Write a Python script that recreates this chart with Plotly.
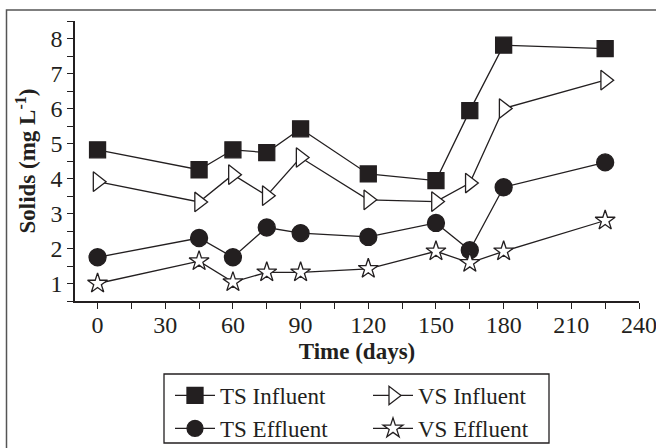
import plotly.graph_objects as go

days = [0, 45, 60, 75, 90, 120, 150, 165, 180, 225]
ts_influent = [4.82, 4.25, 4.82, 4.74, 5.42, 4.13, 3.94, 5.94, 7.81, 7.71]
vs_influent = [3.91, 3.33, 4.11, 3.51, 4.60, 3.39, 3.34, 3.87, 6.00, 6.81]
ts_effluent = [1.75, 2.30, 1.75, 2.60, 2.44, 2.33, 2.73, 1.95, 3.75, 4.46]
vs_effluent = [1.00, 1.64, 1.04, 1.32, 1.32, 1.42, 1.92, 1.59, 1.92, 2.80]

FONT = "Liberation Serif, Times New Roman, serif"
INK = "#231f20"

L, R, T, B = 75, 17, 21, 147
W, H = 656, 448
pw, ph = W - L - R, H - T - B

def px(x):
    return (x - L) / pw

def py(y):
    return (H - B - y) / ph

fig = go.Figure()

series = [
    ("TS Influent", ts_influent, "square", INK, 16, "legend"),
    ("VS Influent", vs_influent, "triangle-right", "white", 17, "legend2"),
    ("TS Effluent", ts_effluent, "circle", INK, 17, "legend"),
    ("VS Effluent", vs_effluent, "star", "white", 15, "legend2"),
]
for name, vals, sym, fill, size, leg in series:
    fig.add_trace(go.Scatter(
        x=days, y=vals, name=name, mode="lines+markers",
        line=dict(color=INK, width=1.3),
        marker=dict(symbol=sym, size=size, color=fill,
                    line=dict(color=INK, width=1.3)),
        legend=leg,
    ))

axis_common = dict(
    showgrid=False, zeroline=False, showline=True, linecolor=INK, linewidth=1.5,
    ticks="outside", ticklen=6, tickwidth=1.3, tickcolor=INK,
    tickfont=dict(family=FONT, size=24, color=INK),
    ticklabeloverflow="allow",
    mirror=False,
)

fig.update_xaxes(
    range=[-10, 240], tick0=0, dtick=30,
    minor=dict(dtick=15, ticklen=6, tickwidth=1.3, tickcolor=INK, ticks="outside"),
    ticklabelstandoff=-5,
    title=dict(text="<b>Time (days)</b>", font=dict(family=FONT, size=23, color=INK), standoff=6),
    **axis_common,
)
fig.update_yaxes(
    range=[0.5, 8.5], tickvals=[1, 2, 3, 4, 5, 6, 7, 8],
    minor=dict(tickvals=[0.5 + 0.5 * i for i in range(17)], ticklen=6, tickwidth=1.3,
               tickcolor=INK, ticks="outside"),
    title=dict(text="<b>Solids (mg L<sup>-1</sup>)</b>", font=dict(family=FONT, size=23, color=INK), standoff=8),
    **axis_common,
)

leg_font = dict(family=FONT, size=23, color=INK)
fig.update_layout(
    width=W, height=H,
    margin=dict(l=L, r=R, t=T, b=B, autoexpand=False),
    paper_bgcolor="white", plot_bgcolor="white",
    legend=dict(x=px(170), y=py(374), xanchor="left", yanchor="top",
                font=leg_font, bgcolor="rgba(0,0,0,0)", tracegroupgap=0,
                itemwidth=40),
    legend2=dict(x=px(368), y=py(374), xanchor="left", yanchor="top",
                 font=leg_font, bgcolor="rgba(0,0,0,0)", tracegroupgap=0,
                 itemwidth=40),
    shapes=[
        dict(type="rect", xref="paper", yref="paper",
             x0=px(164), x1=px(549), y0=py(443), y1=py(374),
             line=dict(color=INK, width=1.3), fillcolor="rgba(0,0,0,0)"),
        dict(type="rect", xref="paper", yref="paper",
             x0=px(6.5), x1=px(700), y0=py(500), y1=py(10),
             line=dict(color="#555555", width=1.5), fillcolor="rgba(0,0,0,0)"),
    ],
)

fig.write_html("out.html")
